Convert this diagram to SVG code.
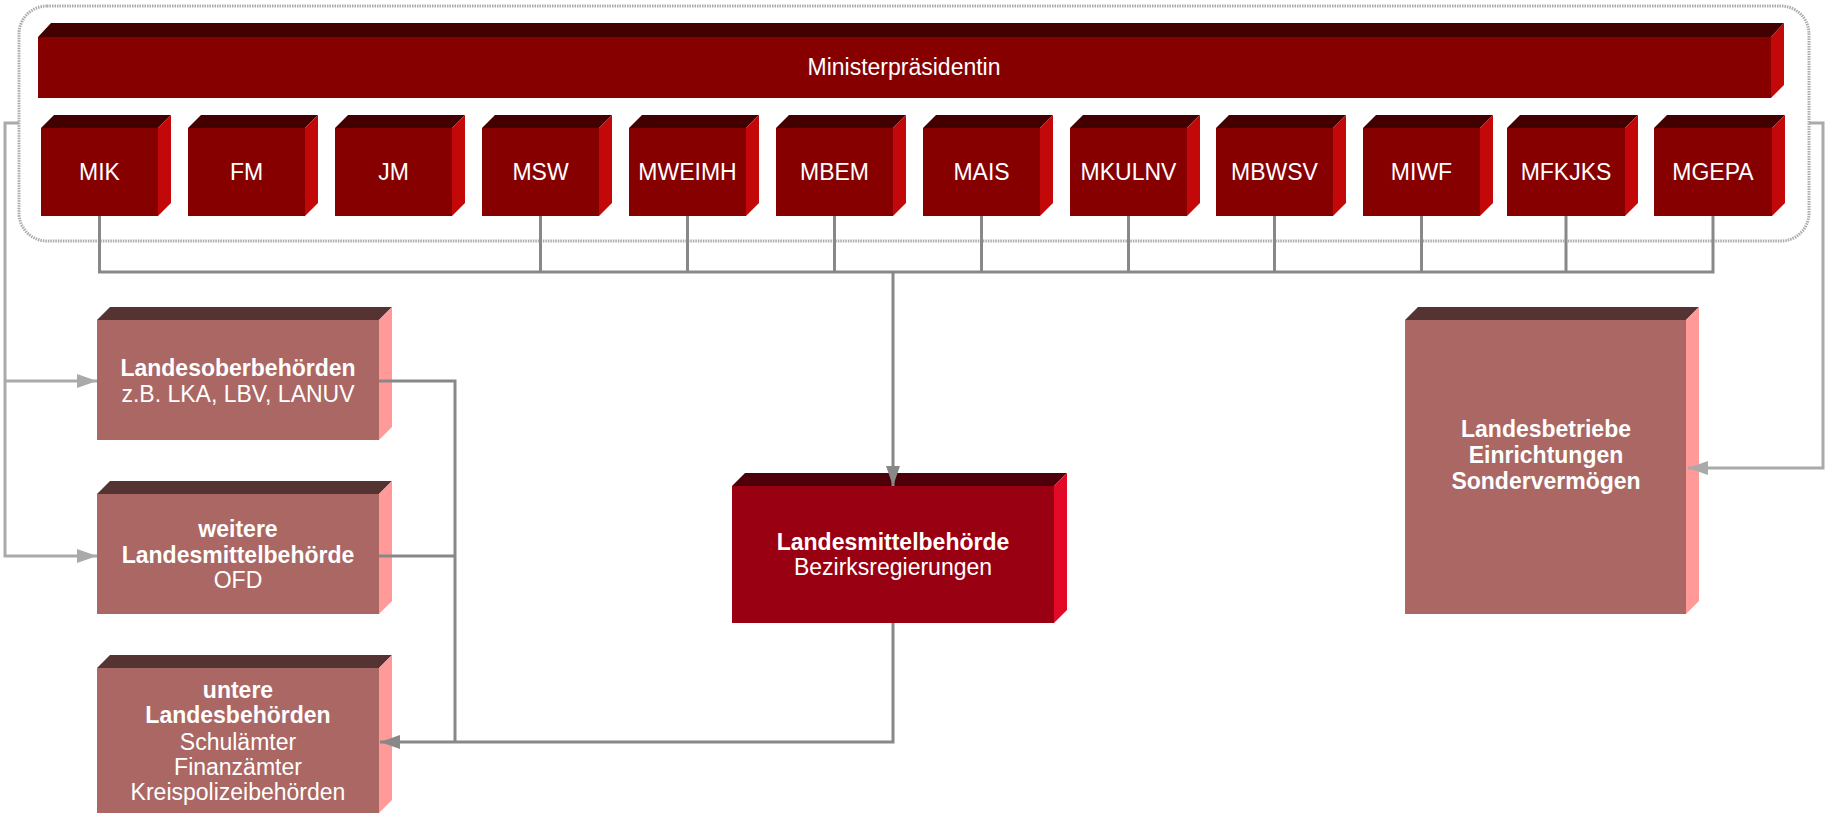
<svg xmlns="http://www.w3.org/2000/svg" width="1825" height="815" viewBox="0 0 1825 815">
<style>
.mf{fill:#860000}.mt{fill:#420000}.ms{fill:#C20808}
.lf{fill:#AA6764}.lt{fill:#553333}.ls{fill:#FF9A98}
.rf{fill:#990011}.rt{fill:#4D000A}.rs{fill:#E20A26}
text{font-family:"Liberation Sans",Arial,sans-serif;fill:#fff;text-anchor:middle;font-size:23px}
.b{font-weight:bold}
.dk{stroke:#888;stroke-width:3;fill:none}
.lg{stroke:#AAA;stroke-width:3;fill:none}
</style>
<defs>
<marker id="ad" markerUnits="userSpaceOnUse" markerWidth="20" markerHeight="14" refX="20" refY="7" orient="auto"><path d="M0,0 L20,7 L0,14 Z" fill="#888"/></marker>
<marker id="al" markerUnits="userSpaceOnUse" markerWidth="20" markerHeight="14" refX="20" refY="7" orient="auto"><path d="M0,0 L20,7 L0,14 Z" fill="#AAA"/></marker>
</defs>
<rect x="0" y="0" width="1825" height="815" fill="#fff"/>
<rect x="19" y="6" width="1790" height="235" rx="28" ry="28" fill="none" stroke="#ABABAB" stroke-width="3" stroke-dasharray="1.5,1"/>
<g id="n-mp">
<rect class="mf" x="38" y="37" width="1733" height="61"/>
<polygon class="mt" points="38,37 51,23 1784,23 1771,37"/>
<polygon class="ms" points="1771,37 1784,23 1784,85 1771,98"/>
<text x="904" y="75">Ministerpräsidentin</text>
</g>
<g id="n-mik"><rect class="mf" x="41" y="128" width="117" height="88"/><polygon class="mt" points="41,128 54,115 171,115 158,128"/><polygon class="ms" points="158,128 171,115 171,203 158,216"/><text x="99.5" y="180">MIK</text></g>
<g id="n-fm"><rect class="mf" x="188" y="128" width="117" height="88"/><polygon class="mt" points="188,128 201,115 318,115 305,128"/><polygon class="ms" points="305,128 318,115 318,203 305,216"/><text x="246.5" y="180">FM</text></g>
<g id="n-jm"><rect class="mf" x="335" y="128" width="117" height="88"/><polygon class="mt" points="335,128 348,115 465,115 452,128"/><polygon class="ms" points="452,128 465,115 465,203 452,216"/><text x="393.5" y="180">JM</text></g>
<g id="n-msw"><rect class="mf" x="482" y="128" width="117" height="88"/><polygon class="mt" points="482,128 495,115 612,115 599,128"/><polygon class="ms" points="599,128 612,115 612,203 599,216"/><text x="540.5" y="180">MSW</text></g>
<g id="n-mweimh"><rect class="mf" x="629" y="128" width="117" height="88"/><polygon class="mt" points="629,128 642,115 759,115 746,128"/><polygon class="ms" points="746,128 759,115 759,203 746,216"/><text x="687.5" y="180">MWEIMH</text></g>
<g id="n-mbem"><rect class="mf" x="776" y="128" width="117" height="88"/><polygon class="mt" points="776,128 789,115 906,115 893,128"/><polygon class="ms" points="893,128 906,115 906,203 893,216"/><text x="834.5" y="180">MBEM</text></g>
<g id="n-mais"><rect class="mf" x="923" y="128" width="117" height="88"/><polygon class="mt" points="923,128 936,115 1053,115 1040,128"/><polygon class="ms" points="1040,128 1053,115 1053,203 1040,216"/><text x="981.5" y="180">MAIS</text></g>
<g id="n-mkulnv"><rect class="mf" x="1070" y="128" width="117" height="88"/><polygon class="mt" points="1070,128 1083,115 1200,115 1187,128"/><polygon class="ms" points="1187,128 1200,115 1200,203 1187,216"/><text x="1128.5" y="180">MKULNV</text></g>
<g id="n-mbwsv"><rect class="mf" x="1216" y="128" width="117" height="88"/><polygon class="mt" points="1216,128 1229,115 1346,115 1333,128"/><polygon class="ms" points="1333,128 1346,115 1346,203 1333,216"/><text x="1274.5" y="180">MBWSV</text></g>
<g id="n-miwf"><rect class="mf" x="1363" y="128" width="117" height="88"/><polygon class="mt" points="1363,128 1376,115 1493,115 1480,128"/><polygon class="ms" points="1480,128 1493,115 1493,203 1480,216"/><text x="1421.5" y="180">MIWF</text></g>
<g id="n-mfkjks"><rect class="mf" x="1507" y="128" width="118" height="88"/><polygon class="mt" points="1507,128 1520,115 1638,115 1625,128"/><polygon class="ms" points="1625,128 1638,115 1638,203 1625,216"/><text x="1566" y="180">MFKJKS</text></g>
<g id="n-mgepa"><rect class="mf" x="1654" y="128" width="118" height="88"/><polygon class="mt" points="1654,128 1667,115 1785,115 1772,128"/><polygon class="ms" points="1772,128 1785,115 1785,203 1772,216"/><text x="1713" y="180">MGEPA</text></g>
<g id="n-lob">
<rect class="lf" x="97" y="320" width="282" height="120"/>
<polygon class="lt" points="97,320 110,307 392,307 379,320"/>
<polygon class="ls" points="379,320 392,307 392,427 379,440"/>
<text class="b" x="238" y="376">Landesoberbehörden</text>
<text x="238" y="402">z.B. LKA, LBV, LANUV</text>
</g>
<g id="n-wlm">
<rect class="lf" x="97" y="494" width="282" height="120"/>
<polygon class="lt" points="97,494 110,481 392,481 379,494"/>
<polygon class="ls" points="379,494 392,481 392,601 379,614"/>
<text class="b" x="238" y="537">weitere</text>
<text class="b" x="238" y="563">Landesmittelbehörde</text>
<text x="238" y="588">OFD</text>
</g>
<g id="n-ulb">
<rect class="lf" x="97" y="668" width="282" height="145"/>
<polygon class="lt" points="97,668 110,655 392,655 379,668"/>
<polygon class="ls" points="379,668 392,655 392,800 379,813"/>
<text class="b" x="238" y="698">untere</text>
<text class="b" x="238" y="723">Landesbehörden</text>
<text x="238" y="750">Schulämter</text>
<text x="238" y="775">Finanzämter</text>
<text x="238" y="800">Kreispolizeibehörden</text>
</g>
<g id="n-lmb">
<rect class="rf" x="732" y="486" width="322" height="137"/>
<polygon class="rt" points="732,486 745,473 1067,473 1054,486"/>
<polygon class="rs" points="1054,486 1067,473 1067,610 1054,623"/>
<text class="b" x="893" y="550">Landesmittelbehörde</text>
<text x="893" y="575">Bezirksregierungen</text>
</g>
<g id="n-lbe">
<rect class="lf" x="1405" y="320" width="281" height="294"/>
<polygon class="lt" points="1405,320 1418,307 1699,307 1686,320"/>
<polygon class="ls" points="1686,320 1699,307 1699,601 1686,614"/>
<text class="b" x="1546" y="437">Landesbetriebe</text>
<text class="b" x="1546" y="463">Einrichtungen</text>
<text class="b" x="1546" y="489">Sondervermögen</text>
</g>
<g id="connectors">
<path class="dk" d="M99.5,216 V272 H1713 V216"/>
<path class="dk" d="M540.5,216 V272 M687.5,216 V272 M834.5,216 V272 M981.5,216 V272 M1128.5,216 V272 M1274.5,216 V272 M1421.5,216 V272 M1566,216 V272"/>
<path class="dk" d="M893,272 V486" marker-end="url(#ad)"/>
<path class="dk" d="M379,381 H455 V742 M379,556 H455"/>
<path class="dk" d="M893,623 V742 H380" marker-end="url(#ad)"/>
<path class="lg" d="M19,123 H5 V556 H97" marker-end="url(#al)"/>
<path class="lg" d="M5,381 H97" marker-end="url(#al)"/>
<path class="lg" d="M1809,123 H1823 V468 H1688" marker-end="url(#al)"/>
</g>
</svg>
